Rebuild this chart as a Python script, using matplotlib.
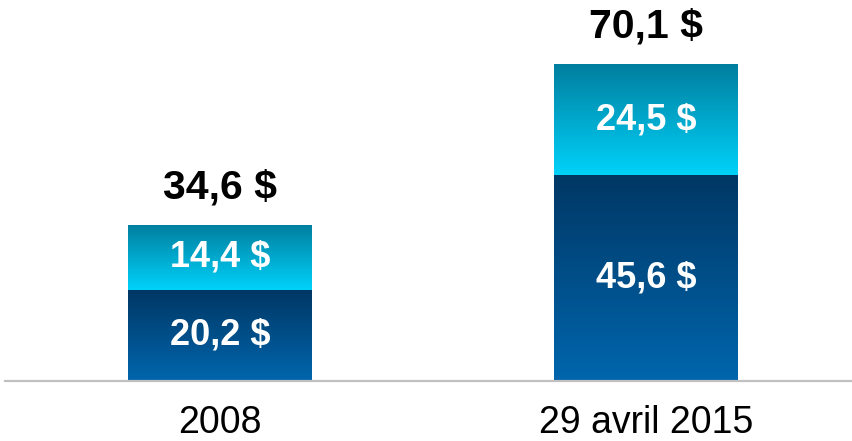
import numpy as np
import matplotlib.pyplot as plt
from matplotlib.colors import LinearSegmentedColormap

categories = ["2008", "29 avril 2015"]
lower_vals = [20.2, 45.6]
upper_vals = [14.4, 24.5]
totals = [34.6, 70.1]
lower_labels = ["20,2 $", "45,6 $"]
upper_labels = ["14,4 $", "24,5 $"]
total_labels = ["34,6 $", "70,1 $"]

plt.rcParams['font.family'] = ['Liberation Sans', 'DejaVu Sans']

# dégradés (haut -> bas)
dark_cmap = LinearSegmentedColormap.from_list("dark", ["#0066ad", "#003764"])
light_cmap = LinearSegmentedColormap.from_list("light", ["#00d2fa", "#007e9e"])


def fill_gradient(ax, patch, cmap):
    x0, y0 = patch.get_x(), patch.get_y()
    w, h = patch.get_width(), patch.get_height()
    grad = np.linspace(0, 1, 256).reshape(-1, 1)
    im = ax.imshow(grad, cmap=cmap, aspect='auto', origin='lower',
                   extent=(x0, x0 + w, y0, y0 + h), zorder=2)
    im.set_clip_path(patch)
    patch.set_alpha(0)


fig = plt.figure(figsize=(8.52, 4.41), dpi=100, facecolor='white')
ax = fig.add_axes([5 / 852, 60 / 441, 847 / 852, 381 / 441])

x = np.arange(len(categories))
width = 0.432
bars_low = ax.bar(x, lower_vals, width, color="#004c8a", zorder=1)
bars_up = ax.bar(x, upper_vals, width, bottom=lower_vals, color="#00a8d0", zorder=1)

for p in bars_low:
    fill_gradient(ax, p, dark_cmap)
for p in bars_up:
    fill_gradient(ax, p, light_cmap)

for i in range(len(categories)):
    ax.text(x[i], lower_vals[i] / 2, lower_labels[i], ha='center', va='center',
            color='white', fontsize=26, fontweight='bold', zorder=3)
    ax.text(x[i], lower_vals[i] + upper_vals[i] / 2, upper_labels[i], ha='center',
            va='center', color='white', fontsize=26, fontweight='bold', zorder=3)
    ax.annotate(total_labels[i], (x[i], totals[i]), xytext=(0, 27),
                textcoords='offset points', ha='center', va='center',
                fontsize=29.5, fontweight='bold', color='black')

ax.set_xlim(-0.505, 1.484)
ax.set_ylim(0, 381 / 4.52)
ax.set_xticks(x)
ax.set_xticklabels(categories, fontsize=27)
ax.tick_params(axis='x', length=0, pad=17)
ax.set_yticks([])
for s in ['top', 'right', 'left']:
    ax.spines[s].set_visible(False)
ax.spines['bottom'].set_color('#c0c0c0')
ax.spines['bottom'].set_linewidth(1.6)
ax.set_facecolor('white')

fig.savefig("out.png", dpi=100, facecolor='white')
